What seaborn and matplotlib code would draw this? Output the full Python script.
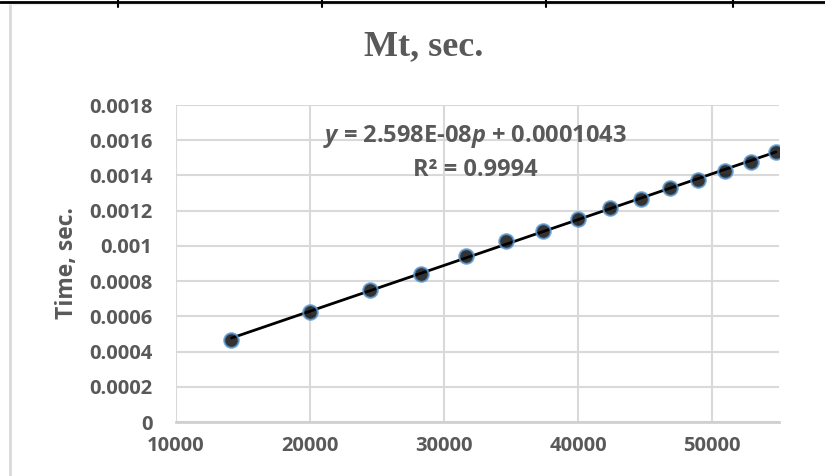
import matplotlib
matplotlib.use("Agg")
import matplotlib.pyplot as plt
from matplotlib.lines import Line2D
import numpy as np
import pandas as pd
import seaborn as sb

# data
p_vals = [14142, 20000, 24495, 28284, 31623, 34641, 37417, 40000,
          42426, 44721, 46904, 48990, 50990, 52915, 54772]
t_vals = [0.000464, 0.000623, 0.000747, 0.000843, 0.000945, 0.001025,
          0.001087, 0.001155, 0.001217, 0.001268, 0.001330, 0.001376,
          0.001427, 0.001477, 0.001534]
x_ticks = [10000, 20000, 30000, 40000, 50000]
y_ticks = [0, 0.0002, 0.0004, 0.0006, 0.0008, 0.001, 0.0012, 0.0014, 0.0016, 0.0018]
y_tick_labels = ["0", "0.0002", "0.0004", "0.0006", "0.0008", "0.001",
                 "0.0012", "0.0014", "0.0016", "0.0018"]
title = "Mt, sec."
ylabel = "Time, sec."
eq_text = r"$\bfit{y}$ = 2.598E-08$\bfit{p}$ + 0.0001043"
r2_text = "R² = 0.9994"

df = pd.DataFrame({"p": p_vals, "t": t_vals})

sb.set_style("white")
plt.rcParams['font.family'] = ['Open Sans', 'DejaVu Sans']
plt.rcParams['mathtext.fontset'] = 'custom'
plt.rcParams['mathtext.bfit'] = 'Open Sans:bold:italic'

grey = "#595959"
fig = plt.figure(figsize=(8.25, 4.76), dpi=100)
ax = fig.add_axes([0.2133, 0.1134, 0.7309, 0.666])

# linear trendline + points
sb.regplot(data=df, x="p", y="t", ax=ax, ci=None, truncate=True,
           scatter_kws=dict(s=110, color="black", edgecolors="#5B9BD5", linewidths=1.5, zorder=4),
           line_kws=dict(color="black", lw=2, zorder=3))

ax.set_xlim(10000, 55000)
ax.set_ylim(0, 0.0018)
ax.set_xticks(x_ticks)
ax.set_xticklabels([str(v) for v in x_ticks])
ax.set_yticks(y_ticks)
ax.set_yticklabels(y_tick_labels)
ax.grid(True, color="#D9D9D9", lw=1.5)
ax.set_axisbelow(True)
for s in ["top", "right", "left"]:
    ax.spines[s].set_visible(False)
ax.spines["bottom"].set_color("#D0D0D0")
ax.spines["bottom"].set_linewidth(2)
ax.tick_params(axis="y", length=0, pad=17, labelsize=14.5, labelcolor=grey)
ax.tick_params(axis="x", length=0, pad=10, labelsize=14.5, labelcolor=grey)
for lab in ax.get_xticklabels() + ax.get_yticklabels():
    lab.set_fontweight("bold")
ax.set_xlabel("")
ax.set_ylabel(ylabel, fontsize=16.5, fontweight="bold", color=grey, labelpad=7)

ax.text(0.496, 0.902, eq_text, transform=ax.transAxes, ha="center", va="center",
        fontsize=17, fontweight="bold", color=grey)
ax.text(0.496, 0.795, r2_text, transform=ax.transAxes, ha="center", va="center",
        fontsize=17, fontweight="bold", color=grey)

fig.text(0.514, 0.903, title, ha="center", va="center", fontsize=26,
         fontweight="bold", color=grey, family=["Liberation Serif"])

# chart frame and the table edge above it
fig.add_artist(Line2D([0.012, 0.012], [0, 0.992], transform=fig.transFigure, color="#D9D9D9", lw=2))
fig.add_artist(Line2D([0.012, 1], [0.992, 0.992], transform=fig.transFigure, color="#EEEEEE", lw=1))
fig.add_artist(Line2D([0, 1], [0.996, 0.996], transform=fig.transFigure, color="black", lw=2))
for xv in [0.143, 0.39, 0.662, 0.889]:
    fig.add_artist(Line2D([xv, xv], [0.985, 1], transform=fig.transFigure, color="black", lw=1.5))

fig.savefig("out.png", dpi=100)
